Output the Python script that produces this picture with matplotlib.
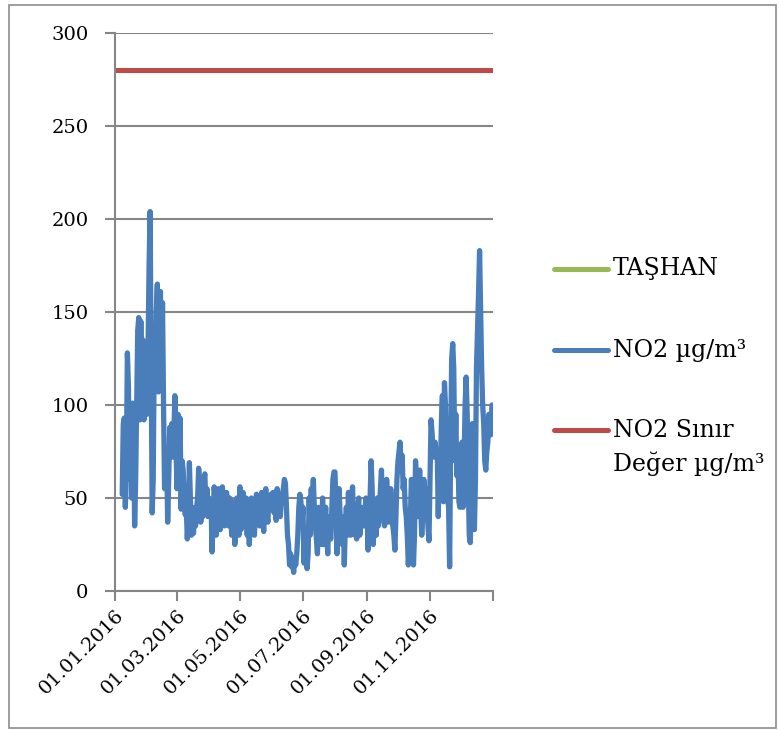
import numpy as np
import pandas as pd
import matplotlib
matplotlib.use("Agg")
import matplotlib.pyplot as plt
from matplotlib.lines import Line2D
from matplotlib.patches import Rectangle

# Daily NO2 concentrations (µg/m³) at TAŞHAN, 2016, listed per month
jan = [52, 90, 93, 45, 70, 128, 110, 60, 100, 50, 101, 95, 35, 60, 100, 140,
       147, 92, 145, 100, 135, 92, 110, 130]                    # from 08.01
feb = [95, 130, 175, 204, 120, 42, 60, 130, 110, 150, 165, 107, 140, 161, 108,
       155, 100, 55, 60, 75, 37, 60, 88, 75, 90, 72, 85, 105, 80]
mar = [55, 95, 75, 93, 44, 70, 65, 50, 41, 45, 28, 40, 69, 50, 30, 45, 31, 42,
       35, 45, 50, 66, 58, 37, 45, 40, 60, 63, 45, 55, 40]
apr = [50, 45, 48, 21, 40, 56, 50, 30, 42, 55, 45, 33, 50, 56, 40, 35, 42, 53,
       45, 35, 50, 44, 30, 40, 48, 25, 38, 50, 45, 30]
may = [56, 33, 45, 53, 40, 35, 50, 30, 45, 25, 38, 50, 48, 40, 30, 44, 52, 38,
       47, 35, 45, 53, 40, 32, 48, 55, 42, 37, 50, 45, 52]
jun = [45, 53, 42, 48, 38, 55, 45, 50, 40, 48, 52, 55, 60, 58, 45, 30, 25, 14,
       20, 13, 15, 10, 18, 14, 20, 30, 45, 52, 48, 35]
jul = [45, 15, 30, 28, 12, 20, 50, 30, 55, 40, 60, 45, 35, 28, 20, 45, 40, 25,
       30, 50, 25, 35, 45, 30, 20, 40, 30, 28, 45, 60, 64]
aug = [64, 45, 20, 35, 55, 40, 30, 25, 40, 14, 35, 45, 30, 53, 40, 30, 45, 56,
       35, 30, 40, 28, 45, 50, 30, 35, 40, 45, 35, 40, 50]
sep = [45, 22, 35, 50, 70, 55, 25, 40, 45, 30, 50, 35, 40, 55, 65, 45, 40, 35,
       45, 60, 50, 37, 40, 55, 45, 35, 30, 22, 40, 60]
oct_ = [70, 75, 80, 65, 73, 55, 60, 45, 40, 30, 14, 25, 40, 60, 45, 14, 30, 70,
        55, 40, 50, 65, 45, 30, 40, 60, 50, 40, 55, 35, 27]
nov = [60, 92, 85, 75, 72, 80, 73, 75, 40, 70, 60, 90, 105, 48, 112, 100, 60,
       50, 45, 13, 80, 125, 133, 120, 70, 95, 62, 75, 48, 45]
dec = [60, 80, 45, 70, 100, 115, 95, 60, 30, 26, 55, 90, 40, 33, 60, 120, 140,
       160, 183, 150, 120, 100, 90, 70, 65, 75, 80, 95, 85, 84, 100]

month_values = [jan, feb, mar, apr, may, jun, jul, aug, sep, oct_, nov, dec]
month_starts = ["2016-01-08"] + [f"2016-{m:02d}-01" for m in range(2, 13)]

limit_value = 280          # NO2 limit value
y_ticks = [0, 50, 100, 150, 200, 250, 300]
x_tick_dates = ["2016-01-01", "2016-03-01", "2016-05-01", "2016-07-01",
                "2016-09-01", "2016-11-01", "2017-01-01"]
x_tick_labels = ["01.01.2016", "01.03.2016", "01.05.2016", "01.07.2016",
                 "01.09.2016", "01.11.2016", ""]
series_names = ["TAŞHAN", "NO2 µg/m³", "NO2 Sınır\nDeğer µg/m³"]

dates = []
values = []
for start, vals in zip(month_starts, month_values):
    dates.extend(pd.date_range(start, periods=len(vals), freq="D"))
    values.extend(vals)
dates = pd.DatetimeIndex(dates)

BLUE = "#4A7EBB"
RED = "#BE4B48"
GREEN = "#98B954"
GRID = "#868686"

plt.rcParams["font.family"] = ["DejaVu Serif"]

fig = plt.figure(figsize=(7.79, 7.31), dpi=100)
ax = fig.add_axes([115 / 779, 1 - 591 / 731, (493 - 115) / 779, (591 - 33) / 731])

x0 = pd.Timestamp("2016-01-01")
x1 = pd.Timestamp("2017-01-01")

ax.plot([], [], color=GREEN, lw=3.6, solid_capstyle="round")
ax.plot(dates, values, color=BLUE, lw=3.8, solid_joinstyle="round",
        solid_capstyle="round")
ax.plot([x0, x1], [limit_value, limit_value], color=RED, lw=3.6,
        solid_capstyle="butt")

ax.set_xlim(x0, x1)
ax.set_ylim(0, 300)
ax.set_yticks(y_ticks)
ax.set_yticklabels([str(t) for t in y_ticks])
ax.set_xticks(pd.to_datetime(x_tick_dates))
ax.set_xticklabels(x_tick_labels, rotation=45, ha="right", va="top",
                   rotation_mode="anchor")

ax.yaxis.grid(True, color=GRID, lw=1.5)
ax.set_axisbelow(True)
for side in ["top", "right"]:
    ax.spines[side].set_visible(False)
for side in ["left", "bottom"]:
    ax.spines[side].set_color(GRID)
    ax.spines[side].set_linewidth(1.5)
ax.tick_params(axis="both", colors=GRID, width=1.5, length=7, direction="out",
               labelcolor="black", labelsize=14)
ax.tick_params(axis="x", pad=4)
ax.tick_params(axis="y", pad=12)

# Legend drawn in figure pixel coordinates
leg_y = [269, 350, 430]
colors = [GREEN, BLUE, RED]
for yy, c, name in zip(leg_y, colors, series_names):
    fy = 1 - yy / 731
    fig.add_artist(Line2D([554 / 779, 608 / 779], [fy, fy], color=c, lw=3.6,
                          solid_capstyle="round", transform=fig.transFigure))
    if "\n" in name:
        fig.text(613 / 779, 1 - (yy - 11) / 731, name, fontsize=17, va="top",
                 ha="left", linespacing=1.5)
    else:
        fig.text(613 / 779, fy, name, fontsize=17, va="center", ha="left")

fig.add_artist(Rectangle((9 / 779, 1 - 728 / 731), (776 - 9) / 779, (728 - 5) / 731,
                         transform=fig.transFigure, fill=False, edgecolor="#8c8c8c",
                         lw=1.2))

fig.savefig("out.png", dpi=100)
